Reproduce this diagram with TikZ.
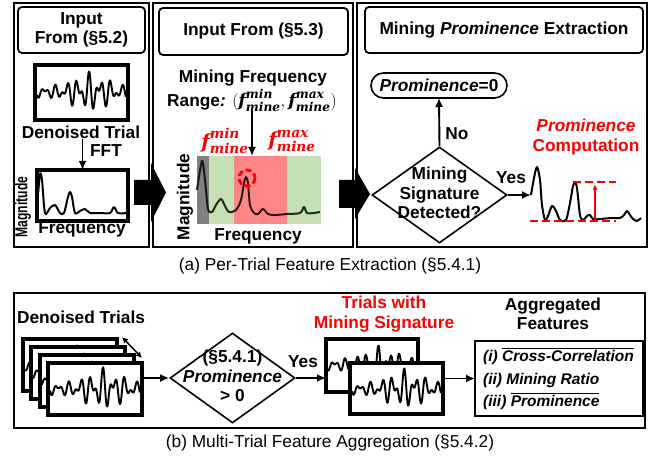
\documentclass[tikz,border=0pt]{standalone}
\usepackage{fontspec}
\setmainfont{Liberation Sans}
\newfontfamily\cambriafont{DejaVu Serif}
\usepackage{amsmath}
\usetikzlibrary{arrows.meta,shapes.geometric}
\definecolor{bandgray}{RGB}{128,128,128}
\definecolor{bandgreen}{RGB}{197,224,180}
\definecolor{bandred}{RGB}{255,134,134}
\definecolor{hired}{RGB}{255,0,0}
\newcommand{\cbi}[1]{\text{\cambriafont\bfseries\itshape #1}}
\newcommand{\fmine}[1]{\ensuremath{\cbi{f}^{\cbi{#1}}_{\cbi{mine}}}}
\newcommand{\rectnode}[7]{\node[#1, minimum width={(#5-#3)*1pt}, minimum height={(#6-#4)*1pt}, inner sep=0pt, outer sep=0pt] (#2) at ({(#3+#5)/2},{(#4+#6)/2}) {#7};}
\newcommand{\noisewave}[5]{\draw[wave] plot[domain=0:1, samples=150, smooth] ({#1+#3*\x},{#2+#4*(0.3+0.7*exp(0-((\x-0.6)/0.25)^2))*(0.55*sin(2900*\x+#5)+0.45*sin(4700*\x+1.7*#5))});}
\begin{document}
\begin{tikzpicture}[x=1pt,y=-1pt,
  panel/.style={draw, line width=2.2pt},
  titlebox/.style={draw, line width=1.8pt, rounded corners=4pt},
  sigbox/.style={draw, line width=3.2pt, fill=white},
  featbox/.style={draw, line width=1.8pt},
  arr/.style={-{Latex[length=9pt,width=8pt]}, line width=1.9pt},
  wave/.style={line width=1.9pt, line join=round},
  spec/.style={line width=2pt, line join=round},
  txt/.style={font=\bfseries\fontsize{17.3}{19.5}\selectfont, align=center, inner sep=0pt},
  captext/.style={font=\fontsize{17.3}{20}\selectfont, inner sep=0pt},
  decision/.style={diamond, draw, line width=1.6pt, inner sep=0pt},
  reddash/.style={draw=hired, line width=2.8pt, dash pattern=on 8pt off 4pt}
]
\useasboundingbox (0,0) rectangle (657,457);

% ---------- panel (a) frames ----------
\rectnode{panel}{p1}{14}{3}{149}{247}{}
\rectnode{panel}{p2}{153}{3}{353}{247}{}
\rectnode{panel}{p3}{357}{3}{647}{247}{}
\rectnode{titlebox, txt}{t1}{18}{7}{145}{53}{Input\\From (§5.2)}
\rectnode{titlebox, txt}{t2}{159}{8}{348}{55}{Input From (§5.3)}
\rectnode{titlebox, txt}{t3}{365}{7}{643}{53}{Mining \textit{Prominence} Extraction}

% ---------- panel 1 ----------
\rectnode{sigbox}{sig1}{35}{65}{128}{120}{}
\noisewave{37}{92}{89}{21}{20}
\node[txt] (dt) at (81,132) {Denoised Trial};
\rectnode{sigbox}{spec1}{37}{170}{128}{221}{}
\draw[spec] plot[smooth, tension=0.5] coordinates {(38,195) (40,174) (42,180) (45,213) (50,208) (55,205) (60,213) (64,213) (68,197) (70,192) (72,197) (75,213) (80,211) (85,209) (90,213) (100,213) (110,213) (114,207) (118,213) (127,213)};
\draw[arr] (spec1.north |- dt.south) -- (spec1.north);
\node[txt] (fft) at (106,151) {FFT};
\node[txt, rotate=90] (mag1) at (23,207) {\scalebox{0.7}[1]{Magnitude}};
\node[txt] (freq1) at (82,229) {Frequency};

% ---------- panel 2 ----------
\node[txt] (mf) at (253,78) {Mining Frequency};
\node[txt] (rng) at (252,100) {Range\textit{:} {\fontsize{17.5}{20}\selectfont$($\fmine{min}$,\,$\fmine{max}$)$}};
\node[txt, text=hired, font=\fontsize{19.5}{22}\selectfont] (fmin) at (225,141) {\fmine{min}};
\node[txt, text=hired, font=\fontsize{19.5}{22}\selectfont] (fmax) at (292,141) {\fmine{max}};
\rectnode{}{plot2}{197}{156}{321}{224}{}
\fill[bandgray] (197,156) rectangle (209,224);
\fill[bandgreen] (209,156) rectangle (234,224);
\fill[bandred] (234,156) rectangle (287,224);
\fill[bandgreen] (287,156) rectangle (321,224);
\draw[spec, draw opacity=0.82] plot[smooth, tension=0.5] coordinates {(197,190) (202,161) (205,180) (208,209) (212,212) (216,205) (221,199) (225,206) (229,212) (236,210) (241,200) (244,183) (246,177) (248,183) (250,205) (254,213) (258,214) (263,209) (268,214) (275,215) (287,214) (300,213) (304,207) (307,213) (314,213) (320,212)};
\draw[hired, line width=2.8pt, dash pattern=on 6pt off 3pt] (247,178) circle (8);
\draw[arr] (rng.south) -- (rng.south |- plot2.north);
\node[txt, rotate=90] (mag2) at (185,197) {Magnitude};
\node[txt] (freq2) at (258,236) {Frequency};

% ---------- panel 3 ----------
\rectnode{draw, line width=1.6pt, rounded corners=12.5pt, txt}{p0}{371}{73}{507}{98}{\textit{Prominence}=0}
\node[decision, minimum width=135pt, minimum height=96pt] (dec1) at (439.5,195) {};
\node[txt] (dec1t) at (439.5,193) {Mining\\Signature\\Detected?};
\draw[arr] (dec1.north) -- (p0.south);
\node[txt] (no) at (457,134) {No};
\node[txt] (yes1) at (511,178) {Yes};
\coordinate (c3) at (531,195);
\draw[arr] (dec1.east) -- (c3);
\node[txt, text=hired] (pc) at (586,137) {\textit{Prominence}\\Computation};
\draw[spec] plot[smooth, tension=0.5] coordinates {(531,195) (534,178) (537,167) (540,180) (542,205) (545,220) (548,216) (552,206) (556,211) (560,220) (566,220) (570,203) (573,186) (575,183) (577,188) (580,215) (583,220) (587,216) (590,215) (593,219) (600,219) (612,218) (620,218) (624,215) (627,211) (630,215) (633,219) (637,221) (641,218)};
\coordinate (h1) at (573,182); \coordinate (h2) at (616,182);
\coordinate (l1) at (530,221); \coordinate (l2) at (616,221);
\draw[reddash] (h1) -- (h2);
\draw[reddash] (l1) -- (l2);
\coordinate (va) at (595,221); \coordinate (vb) at (595,184);
\draw[hired, line width=1.3pt, -{Latex[length=6pt,width=5pt]}] (va) -- (vb);

% block arrows
\fill (134,180) -- (151,180) -- (151,163) -- (166,192.5) -- (151,222) -- (151,205) -- (134,205) -- cycle;
\fill (339,180) -- (355,180) -- (355,168) -- (370,194) -- (355,219) -- (355,208) -- (339,208) -- cycle;

\node[captext] (capa) at (330,266) {(a) Per-Trial Feature Extraction (§5.4.1)};

% ---------- panel (b) ----------
\rectnode{panel}{pb}{14}{293}{645}{428}{}
\node[txt] (dts) at (81,317) {Denoised Trials};
\rectnode{sigbox}{st1}{23}{339}{117}{391}{} \noisewave{25}{365}{90}{20}{40}
\rectnode{sigbox}{st2}{31}{347}{125}{399}{} \noisewave{33}{373}{90}{20}{70}
\rectnode{sigbox}{st3}{40}{355}{134}{407}{} \noisewave{42}{381}{90}{20}{100}
\rectnode{sigbox}{st4}{48}{363}{142}{415}{} \noisewave{50}{389}{90}{22}{10}
\coordinate (da1) at (122,337); \coordinate (da2) at (142,358);
\draw[{Latex[length=6pt,width=6pt]}-{Latex[length=6pt,width=6pt]}, line width=1.5pt] (da1) -- (da2);
\node[decision, minimum width=125pt, minimum height=90pt] (dec2) at (232.5,378) {};
\node[txt] (dec2t) at (232.5,376) {(§5.4.1)\\\textit{Prominence}\\> 0};
\draw[arr] (dec2.west -| st4.east) -- (dec2.west);
\node[txt] (yes2) at (303,362) {Yes};
\node[txt, text=hired] (tws) at (384,314) {Trials with\\Mining Signature};
\rectnode{sigbox}{tb1}{326}{339}{418}{392}{} \noisewave{328}{365}{88}{20}{55}
\rectnode{sigbox}{tb2}{350}{363}{443}{414}{} \noisewave{352}{389}{89}{21}{15}
\draw[arr] (dec2.east) -- (dec2.east -| tb1.west);
\node[txt] (agg) at (553,314) {Aggregated\\Features};
\rectnode{featbox}{feat}{475}{341}{643}{416}{}
\node[txt, font=\bfseries\itshape\fontsize{15.5}{22.5}\selectfont, align=left, anchor=west] (ft) at (483,379) {(i) $\overline{\mbox{Cross-Correlation}}$\\(ii) Mining Ratio\\(iii) $\overline{\mbox{Prominence}}$};
\draw[arr] (feat.west -| tb2.east) -- (feat.west);

\node[captext] (capb) at (330,443) {(b) Multi-Trial Feature Aggregation (§5.4.2)};
\end{tikzpicture}
\end{document}
